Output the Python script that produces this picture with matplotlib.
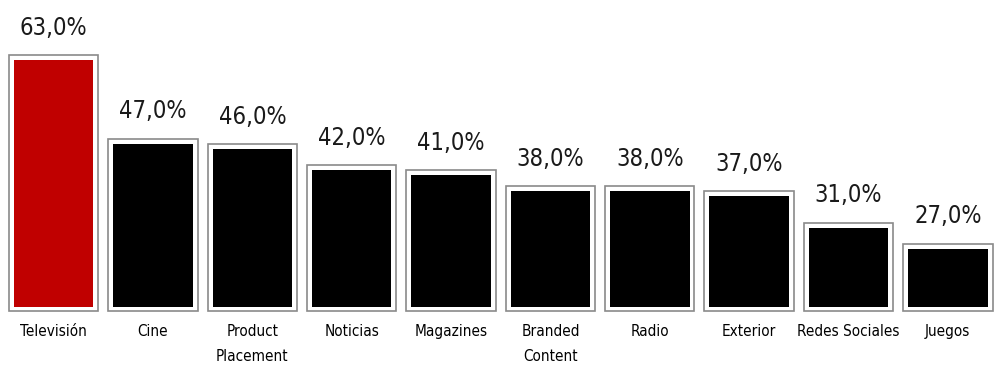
import matplotlib
matplotlib.use("Agg")
import matplotlib.pyplot as plt

categories = ["Televisión", "Cine", "Product\nPlacement", "Noticias", "Magazines",
              "Branded\nContent", "Radio", "Exterior", "Redes Sociales", "Juegos"]
values = [63.0, 47.0, 46.0, 42.0, 41.0, 38.0, 38.0, 37.0, 31.0, 27.0]
colors = ["#C00000"] + ["#000000"] * 9

fig = plt.figure(figsize=(9.94, 3.65), dpi=100)
left_px, right_px = 9, 992.5
ax = fig.add_axes([left_px / 994, 54 / 365, (right_px - left_px) / 994, 311 / 365])
ymin, ymax = 14.2, 73.5
ax.set_xlim(-0.45, len(values) - 1 + 0.45)
ax.set_ylim(ymin, ymax)

x = list(range(len(values)))
# outer frame boxes
ax.bar(x, [v - ymin for v in values], bottom=ymin, width=0.9, color="white",
       edgecolor="#8a8a8a", linewidth=1.2, zorder=2, clip_on=False)
# inner filled bars
ax.bar(x, [v - ymin - 1.7 for v in values], bottom=ymin + 0.75, width=0.8,
       color=colors, edgecolor="none", zorder=3)

fam = "DejaVu Sans"
for xi, v in zip(x, values):
    ax.annotate(f"{v:.1f}%".replace(".", ","), (xi, v), xytext=(0, 14.8),
                textcoords="offset points", ha="center", va="baseline",
                fontsize=17, family=fam, fontstretch="condensed", color="#1a1a1a",
                fontweight="light", annotation_clip=False)

for xi, c in zip(x, categories):
    ax.text(xi, ymin - 2.4, c, ha="center", va="top",
            fontsize=11, family=fam, fontstretch="condensed", color="#000000",
            linespacing=1.85, clip_on=False)

ax.axis("off")
fig.savefig("out.png", dpi=100)
